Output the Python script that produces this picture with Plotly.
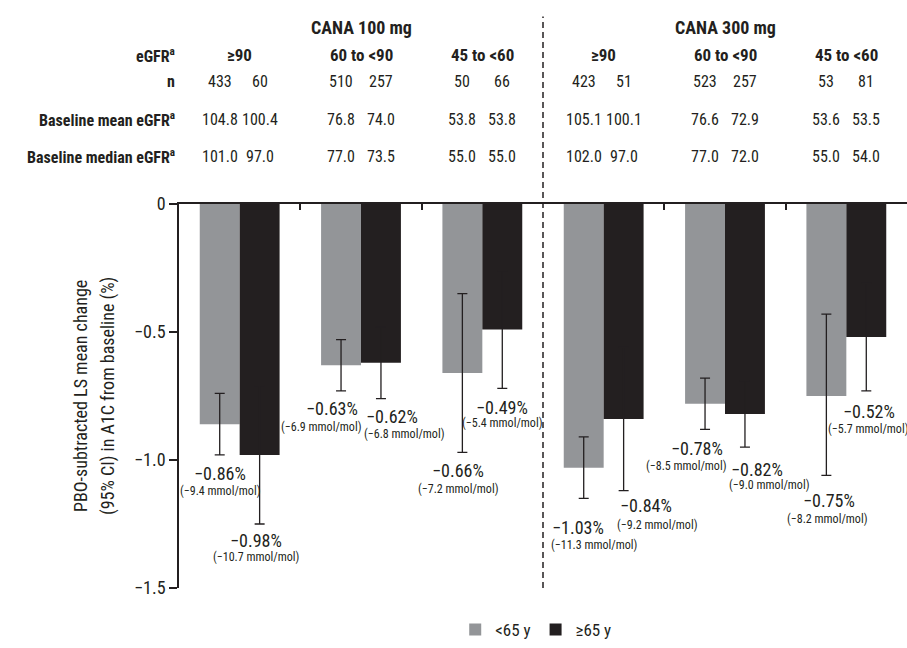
import plotly.graph_objects as go

# ---------------- data ----------------
groups = ["≥90", "60 to &lt;90", "45 to &lt;60", "≥90", "60 to &lt;90", "45 to &lt;60"]
doses = ["CANA 100 mg", "CANA 300 mg"]
series_names = ["&lt;65 y", "≥65 y"]

young_mean = [-0.86, -0.63, -0.66, -1.03, -0.78, -0.75]
old_mean = [-0.98, -0.62, -0.49, -0.84, -0.82, -0.52]
young_upper = [-0.74, -0.53, -0.35, -0.91, -0.68, -0.43]
young_lower = [-0.98, -0.73, -0.97, -1.15, -0.88, -1.06]
old_upper = [-0.71, -0.48, -0.26, -0.56, -0.69, -0.31]
old_lower = [-1.25, -0.76, -0.72, -1.12, -0.95, -0.73]
young_mmol = ["−9.4", "−6.9", "−7.2", "−11.3", "−8.5", "−8.2"]
old_mmol = ["−10.7", "−6.8", "−5.4", "−9.2", "−9.0", "−5.7"]

n_young = [433, 510, 50, 423, 523, 53]
n_old = [60, 257, 66, 51, 257, 81]
mean_young = ["104.8", "76.8", "53.8", "105.1", "76.6", "53.6"]
mean_old = ["100.4", "74.0", "53.8", "100.1", "72.9", "53.5"]
median_young = ["101.0", "77.0", "55.0", "102.0", "77.0", "55.0"]
median_old = ["97.0", "73.5", "55.0", "97.0", "72.0", "54.0"]

y_ticks = [0, -0.5, -1.0, -1.5]
y_ticktext = ["0", "−0.5", "−1.0", "−1.5"]
y_title_lines = ["PBO-subtracted LS mean change", "(95% CI) in A1C from baseline (%)"]

# ---------------- style ----------------
FONT = "Liberation Sans Narrow, Roboto Condensed, Arial Narrow, Liberation Sans, sans-serif"
GRAY = "#939598"
BLACK = "#231f20"
TXT = "#231f20"

# label positions (data coords) for value annotations
young_pct_pos = [(-0.165, -1.053), (0.765, -0.798), (1.802, -1.042), (2.790, -1.263), (3.770, -0.954), (4.856, -1.160)]
young_mmol_pos = [(-0.165, -1.122), (0.667, -0.870), (1.802, -1.115), (2.922, -1.332), (3.679, -1.023), (4.840, -1.229)]
old_pct_pos = [(0.132, -1.313), (1.259, -0.832), (2.165, -0.794), (3.350, -1.179), (4.263, -1.038), (5.185, -0.809)]
old_mmol_pos = [(0.132, -1.378), (1.358, -0.897), (2.165, -0.855), (3.440, -1.252), (4.362, -1.099), (5.177, -0.878)]

x = list(range(len(groups)))

fig = go.Figure()
fig.add_trace(go.Bar(
    x=x, y=young_mean, name=series_names[0], marker_color=GRAY, marker_line_width=0,
    error_y=dict(type="data", symmetric=False,
                 array=[u - m for u, m in zip(young_upper, young_mean)],
                 arrayminus=[m - l for l, m in zip(young_lower, young_mean)],
                 color=BLACK, thickness=1.3, width=5),
))
fig.add_trace(go.Bar(
    x=x, y=old_mean, name=series_names[1], marker_color=BLACK, marker_line_width=0,
    error_y=dict(type="data", symmetric=False,
                 array=[u - m for u, m in zip(old_upper, old_mean)],
                 arrayminus=[m - l for l, m in zip(old_lower, old_mean)],
                 color=BLACK, thickness=1.3, width=5),
))

ann = []
def pct(v):
    return ("−%.2f%%" % abs(v))

for i in range(len(groups)):
    for val, mm, pp, mp in ((young_mean[i], young_mmol[i], young_pct_pos[i], young_mmol_pos[i]),
                            (old_mean[i], old_mmol[i], old_pct_pos[i], old_mmol_pos[i])):
        ann.append(dict(x=pp[0], y=pp[1], xref="x", yref="y", text=pct(val), showarrow=False,
                        font=dict(family=FONT, size=18, color=TXT), xanchor="center", yanchor="middle"))
        ann.append(dict(x=mp[0], y=mp[1], xref="x", yref="y", text="(%s mmol/mol)" % mm, showarrow=False,
                        font=dict(family=FONT, size=12, color=TXT), xanchor="center", yanchor="middle"))

# table header
TOP, BOT = 204, 597
def py(p):
    return (BOT - p) / (BOT - TOP)

def px(p):
    return (p - 179) / (907 - 179)

row_y = {"dose": py(23), "egfr": py(52), "n": py(79), "mean": py(118), "median": py(155)}
for k, d in enumerate(doses):
    ann.append(dict(x=1 + 3 * k, y=row_y["dose"], xref="x", yref="paper", text="<b>%s</b>" % d,
                    showarrow=False, yanchor="middle", font=dict(family=FONT, size=18, color=TXT)))
for i, g in enumerate(groups):
    ann.append(dict(x=i, y=row_y["egfr"], xref="x", yref="paper", text="<b>%s</b>" % g,
                    showarrow=False, yanchor="middle", font=dict(family=FONT, size=17, color=TXT)))
    for key, a, b in (("n", n_young[i], n_old[i]), ("mean", mean_young[i], mean_old[i]),
                      ("median", median_young[i], median_old[i])):
        ann.append(dict(x=i - 0.165, y=row_y[key], xref="x", yref="paper", text=str(a),
                        showarrow=False, yanchor="middle", font=dict(family=FONT, size=16, color=TXT)))
        ann.append(dict(x=i + 0.165, y=row_y[key], xref="x", yref="paper", text=str(b),
                        showarrow=False, yanchor="middle", font=dict(family=FONT, size=16, color=TXT)))

row_labels = [("egfr", "eGFR<sup>a</sup>"), ("n", "n"), ("mean", "Baseline mean eGFR<sup>a</sup>"),
              ("median", "Baseline median eGFR<sup>a</sup>")]
for key, lab in row_labels:
    ann.append(dict(x=px(177), y=row_y[key], xref="paper", yref="paper", text="<b>%s</b>" % lab,
                    showarrow=False, xanchor="right", yanchor="middle",
                    font=dict(family=FONT, size=16, color=TXT)))

# y-axis title, two lines
for line, xp in zip(y_title_lines, (80, 108)):
    ann.append(dict(x=px(xp), y=0.5, xref="paper", yref="paper", text=line, textangle=-90,
                    showarrow=False, xanchor="center", yanchor="middle",
                    font=dict(family=FONT, size=18, color=TXT)))

fig.update_layout(
    width=907, height=648,
    margin=dict(l=179, r=0, t=TOP, b=648 - BOT),
    paper_bgcolor="white", plot_bgcolor="white",
    barmode="group", bargap=0.342, bargroupgap=0,
    font=dict(family=FONT, size=15, color=TXT),
    annotations=ann,
    showlegend=True,
    legend=dict(orientation="h", x=0.49, y=-0.11, xanchor="center", yanchor="middle",
                font=dict(family=FONT, size=17, color=TXT), traceorder="normal"),
    shapes=[dict(type="line", xref="x", yref="paper", x0=2.5, x1=2.5, y0=0, y1=py(12),
                 line=dict(color=BLACK, width=1.5, dash="6px,4px"))],
)
fig.update_xaxes(range=[-0.5, 5.5], side="top", showline=True, linecolor=BLACK, linewidth=1.5,
                 ticks="inside", tickvals=[0.5, 1.5, 3.5, 4.5], ticklen=6, tickwidth=1.5,
                 tickcolor=BLACK, showticklabels=False, showgrid=False, zeroline=False)
fig.update_yaxes(range=[-1.5, 0], showline=True, linecolor=BLACK, linewidth=1.5,
                 ticks="outside", tickvals=y_ticks, ticktext=y_ticktext, ticklen=8, tickwidth=1.5,
                 tickcolor=BLACK, showgrid=False, zeroline=False,
                 tickfont=dict(family=FONT, size=18, color=TXT))

fig.write_html("out.html")
